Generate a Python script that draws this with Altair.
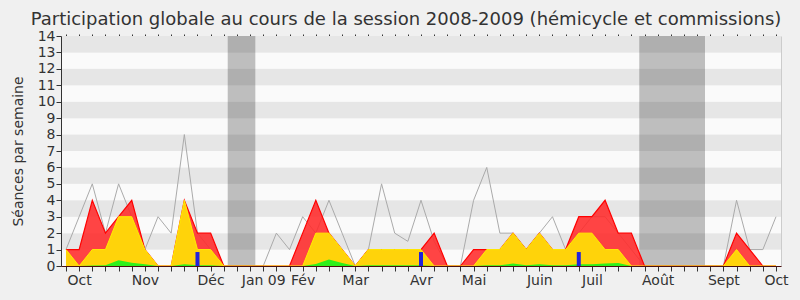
import altair as alt
import pandas as pd

# ---- data (one value per week, week 0 = end of Sept 2008) ----
weeks = list(range(55))
red = [1, 1, 4, 2, 3, 4, 1, 0, 0, 4, 2, 2, 0, 0, 0, 0, 0, 0, 2, 4,
       2, 1, 0, 1, 1, 1, 1, 1, 2, 0, 0, 1, 1, 1, 2, 1, 2, 1, 1, 3,
       3, 4, 2, 2, 0, 0, 0, 0, 0, 0, 0, 2, 1, 0, 0]
yellow = [1, 0, 1, 1, 3, 3, 1, 0, 0, 4, 1, 1, 0, 0, 0, 0, 0, 0, 0, 2,
          2, 1, 0, 1, 1, 1, 1, 1, 0, 0, 0, 0, 1, 1, 2, 1, 2, 1, 1, 2,
          2, 1, 1, 0, 0, 0, 0, 0, 0, 0, 0, 1, 0, 0, 0]
green = [0, 0, 0.03, 0.05, 0.35, 0.2, 0.1, 0, 0, 0.1, 0.05, 0.05, 0, 0, 0, 0, 0, 0, 0, 0.12,
         0.4, 0.18, 0, 0.05, 0.05, 0.05, 0.05, 0.05, 0, 0, 0, 0, 0.05, 0.05, 0.15, 0.05, 0.1, 0.05, 0.05, 0.1,
         0.1, 0.15, 0.18, 0, 0, 0, 0, 0, 0, 0, 0, 0, 0, 0, 0]
gray = [1, 3, 5, 2, 5, 3, 1, 3, 2, 8, 2, 1, 0, 0, 0, 0, 2, 1, 3, 2,
        4, 2, 0, 1, 5, 2, 1.5, 4, 1.5, 0, 0, 4, 6, 2, 2, 1, 2, 3, 1, 2,
        3, 3, 2, 1, 0, 0, 0, 0, 0, 0, 0, 4, 1, 1, 3]
bar_weeks = [10, 27, 39]
bar_heights = [0.85, 0.85, 0.85]
vac_start = [12.3, 43.6]
vac_end = [14.4, 48.6]
month_labels = ["Oct", "Nov", "Déc", "Jan 09", "Fév", "Mar", "Avr", "Mai",
                "Juin", "Juil", "Août", "Sept", "Oct"]
month_weeks = [1, 6, 11, 15, 18, 22, 27, 31, 36, 40, 45, 50, 54]
y_ticks = list(range(15))

df = pd.DataFrame({"week": weeks, "red": red, "yellow": yellow,
                   "green": green, "gray": gray})
bars = pd.DataFrame({"week": bar_weeks, "h": bar_heights})
vac = pd.DataFrame({"s": vac_start, "e": vac_end})
stripes = pd.DataFrame({"lo": y_ticks[:-1], "hi": y_ticks[1:],
                        "fill": ["#fafafa" if i % 2 == 0 else "#e6e6e6" for i in y_ticks[:-1]]})

FONT = "DejaVu Sans"
TXT = "#333333"
W, H = 720, 230

xs = alt.Scale(domain=[0, 54], nice=False, zero=False)
ys = alt.Scale(domain=[0, 14], nice=False)

label_expr = " : ".join(
    f"datum.value == {w} ? '{l}'" for w, l in zip(month_weeks, month_labels)
) + " : ''"

stripe_layer = alt.Chart(stripes).mark_rect().encode(
    x=alt.value(0), x2=alt.value(W),
    y=alt.Y("lo:Q", scale=ys, axis=None), y2="hi:Q",
    color=alt.Color("fill:N", scale=None),
)

vac_layer = alt.Chart(vac).mark_rect(color="#000000", opacity=0.24).encode(
    x=alt.X("s:Q", scale=xs, axis=None), x2="e:Q",
    y=alt.value(0), y2=alt.value(H),
)

gray_layer = alt.Chart(df).mark_line(color="#aaaaaa", strokeWidth=1).encode(
    x=alt.X("week:Q", scale=xs, axis=alt.Axis(
        values=weeks, labelExpr=label_expr, title=None, grid=False,
        tickSize=5, tickColor=TXT, domainColor="#4a1010", labelColor=TXT,
        labelFont=FONT, labelFontSize=14, labelPadding=2, zindex=1,
        labelOverlap=False, labelBound=False, labelFlush=False)),
    y=alt.Y("gray:Q", scale=ys, axis=alt.Axis(
        values=y_ticks, title="Séances par semaine", grid=False,
        tickSize=5, tickColor=TXT, domainColor=TXT, labelColor=TXT,
        labelFont=FONT, labelFontSize=14, labelPadding=1, zindex=1,
        titleFont=FONT, titleFontSize=14, titleColor=TXT, titleFontWeight="normal",
        titleX=-43, titleY=H / 2, titleAngle=-90, titleAlign="center",
        titleBaseline="middle", labelOverlap=False)),
)

red_area = alt.Chart(df).mark_area(
    fill="#ff2a2a", fillOpacity=0.88, interpolate="linear"
).encode(x=alt.X("week:Q", scale=xs, axis=None), y=alt.Y("red:Q", scale=ys, axis=None))
red_line = alt.Chart(df).mark_line(color="#ff0000", strokeWidth=1.2).encode(
    x=alt.X("week:Q", scale=xs, axis=None), y=alt.Y("red:Q", scale=ys, axis=None))

yellow_area = alt.Chart(df).mark_area(
    fill="#ffd30a", interpolate="linear"
).encode(x=alt.X("week:Q", scale=xs, axis=None), y=alt.Y("yellow:Q", scale=ys, axis=None))
yellow_line = alt.Chart(df).mark_line(color="#ffee00", strokeWidth=1).encode(
    x=alt.X("week:Q", scale=xs, axis=None), y=alt.Y("yellow:Q", scale=ys, axis=None))

green_area = alt.Chart(df).mark_area(
    fill="#2ef01a", interpolate="linear"
).encode(x=alt.X("week:Q", scale=xs, axis=None), y=alt.Y("green:Q", scale=ys, axis=None))

bar_layer = alt.Chart(bars).mark_bar(color="#2222dd", size=4).encode(
    x=alt.X("week:Q", scale=xs, axis=None),
    y=alt.Y("h:Q", scale=ys, axis=None), y2=alt.datum(0),
)

top_ticks = alt.Chart(df).mark_point(opacity=0).encode(
    x=alt.X("week:Q", scale=xs, axis=alt.Axis(
        orient="top", values=weeks, labels=False, domain=False, grid=False,
        tickSize=2, tickColor=TXT, title=None)),
    y=alt.Y("gray:Q", scale=ys, axis=None),
)

right_border = alt.Chart(df).mark_point(opacity=0).encode(
    x=alt.X("week:Q", scale=xs, axis=None),
    y=alt.Y("gray:Q", scale=ys, axis=alt.Axis(
        orient="right", labels=False, ticks=False, grid=False,
        domainColor="#cccccc", title=None)),
)

chart = alt.layer(
    stripe_layer, vac_layer, gray_layer, red_area, red_line, yellow_area,
    yellow_line, green_area, bar_layer, top_ticks, right_border
).resolve_axis(x="independent", y="independent").properties(
    width=W, height=H,
    title=alt.TitleParams(
        "Participation globale au cours de la session 2008-2009 (hémicycle et commissions)",
        font=FONT, fontSize=18, fontWeight="normal", color=TXT,
        anchor="middle", dx=-15, offset=0),
    autosize=alt.AutoSizeParams(type="none"),
    padding={"left": 61, "top": 36, "right": 19, "bottom": 34},
    background="#f0f0f0",
).configure_view(stroke=None)

chart.save("out.html", embed_options={"renderer": "svg", "actions": False})
